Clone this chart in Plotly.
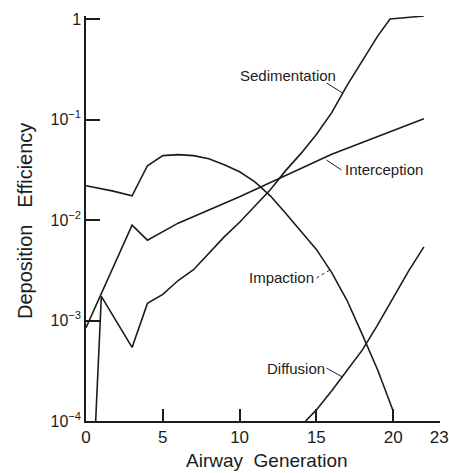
import math
import plotly.graph_objects as go

# ---- data (airway generation vs deposition efficiency) ----
sed_gen = [0.63, 1, 3, 4, 5, 6, 7, 8, 9, 10, 11, 12, 13, 14, 15, 16, 17, 18, 19, 19.8, 22]
sed_eff = [1.0e-4, 1.74e-3, 5.4e-4, 1.48e-3, 1.82e-3, 2.5e-3, 3.2e-3, 4.7e-3, 6.8e-3, 9.5e-3,
           1.38e-2, 2.0e-2, 3.1e-2, 4.6e-2, 7.1e-2, 0.117, 0.219, 0.39, 0.68, 1.0, 1.07]

int_gen = [0, 3, 4, 6, 10, 16, 22]
int_eff = [8.5e-4, 8.9e-3, 6.3e-3, 9.3e-3, 1.7e-2, 4.5e-2, 0.102]

imp_gen = [0, 1.7, 3, 4, 5, 6, 7, 8, 9, 10, 11, 12, 13, 14, 15, 16, 17, 18, 19, 20]
imp_eff = [0.0219, 0.0195, 0.0174, 0.0347, 0.0437, 0.0447, 0.0437, 0.0407, 0.0355, 0.0302,
           0.024, 0.0174, 0.0117, 0.0078, 0.0051, 0.0030, 0.00158, 7.2e-4, 3.2e-4, 1.26e-4]

dif_gen = [14.3, 15, 16, 17, 18, 19, 20, 21, 22]
dif_eff = [1.0e-4, 1.29e-4, 2.0e-4, 3.2e-4, 5.1e-4, 9.1e-4, 1.66e-3, 3.1e-3, 5.4e-3]

x_ticks = [0, 5, 10, 15, 20, 23]
x_tick_text = ["0", "5", "10", "15", "20", "23"]
y_ticks = [1e-4, 1e-3, 1e-2, 1e-1, 1]
y_tick_text = ["10<sup>−4</sup>", "10<sup>−3</sup>", "10<sup>−2</sup>", "10<sup>−1</sup>", "1"]

# curve labels: (text, generation, efficiency, xanchor)
labels = [
    ("Sedimentation", 13.12, 0.277, "center"),
    ("Interception", 16.72, 0.0316, "left"),
    ("Impaction", 15.0, 0.00265, "right"),
    ("Diffusion", 15.66, 3.36e-4, "right"),
]
# leader lines from label to curve: ([gen0, gen1], [eff0, eff1], dash)
leaders = [
    ([15.66, 16.70], [0.231, 0.184], "solid"),
    ([15.66, 16.63], [0.0395, 0.0315], "solid"),
    ([15.01, 15.98], [0.00265, 0.00325], "dot"),
    ([15.66, 16.70], [3.36e-4, 2.74e-4], "solid"),
]

FONT = "Liberation Sans"
INK = "#1c1c1c"
SP = "\u00a0"

fig = go.Figure()
for gx, ey in [(sed_gen, sed_eff), (int_gen, int_eff), (imp_gen, imp_eff), (dif_gen, dif_eff)]:
    fig.add_trace(go.Scatter(x=gx, y=ey, mode="lines",
                             line=dict(color=INK, width=1.6), showlegend=False,
                             hoverinfo="skip"))
for lx, ly, dash in leaders:
    fig.add_trace(go.Scatter(x=lx, y=ly, mode="lines",
                             line=dict(color=INK, width=1, dash=dash), showlegend=False,
                             hoverinfo="skip"))

annotations = []
for text, lx, ly, anchor in labels:
    annotations.append(dict(x=lx, y=math.log10(ly), xref="x", yref="y",
                            text=text, showarrow=False,
                            xanchor=anchor, yanchor="middle",
                            font=dict(family=FONT, size=15, color=INK)))
annotations.append(dict(x=0.511, y=-0.097, xref="paper", yref="paper",
                        text="Airway" + SP * 2 + "Generation", showarrow=False,
                        xanchor="center", yanchor="middle",
                        font=dict(family=FONT, size=19, color=INK)))
annotations.append(dict(x=-0.172, y=0.494, xref="paper", yref="paper",
                        text="Deposition" + SP * 3 + "Efficiency", showarrow=False,
                        textangle=-90, xanchor="center", yanchor="middle",
                        font=dict(family=FONT, size=20, color=INK)))

fig.update_layout(
    width=449, height=473,
    margin=dict(l=86, r=9, t=16, b=52, autoexpand=False),
    paper_bgcolor="white", plot_bgcolor="white",
    font=dict(family=FONT, size=17, color=INK),
    annotations=annotations,
    xaxis=dict(range=[0, 23.05], tickvals=x_ticks, ticktext=x_tick_text,
               ticks="inside", ticklen=12, tickwidth=1.5, tickcolor=INK,
               showline=True, linecolor=INK, linewidth=1.5, showgrid=False,
               zeroline=False, ticklabeloverflow="allow", automargin=False,
               tickfont=dict(family=FONT, size=17, color=INK)),
    yaxis=dict(type="log", range=[-4, 0.03], tickvals=y_ticks, ticktext=y_tick_text,
               ticks="inside", ticklen=14, tickwidth=1.5, tickcolor=INK,
               showline=True, linecolor=INK, linewidth=1.5, showgrid=False,
               zeroline=False, automargin=False,
               tickfont=dict(family=FONT, size=16, color=INK)),
)

fig.write_html("out.html", config={"displayModeBar": False},
               post_script="document.body.style.margin='0';document.body.style.overflow='hidden';")
